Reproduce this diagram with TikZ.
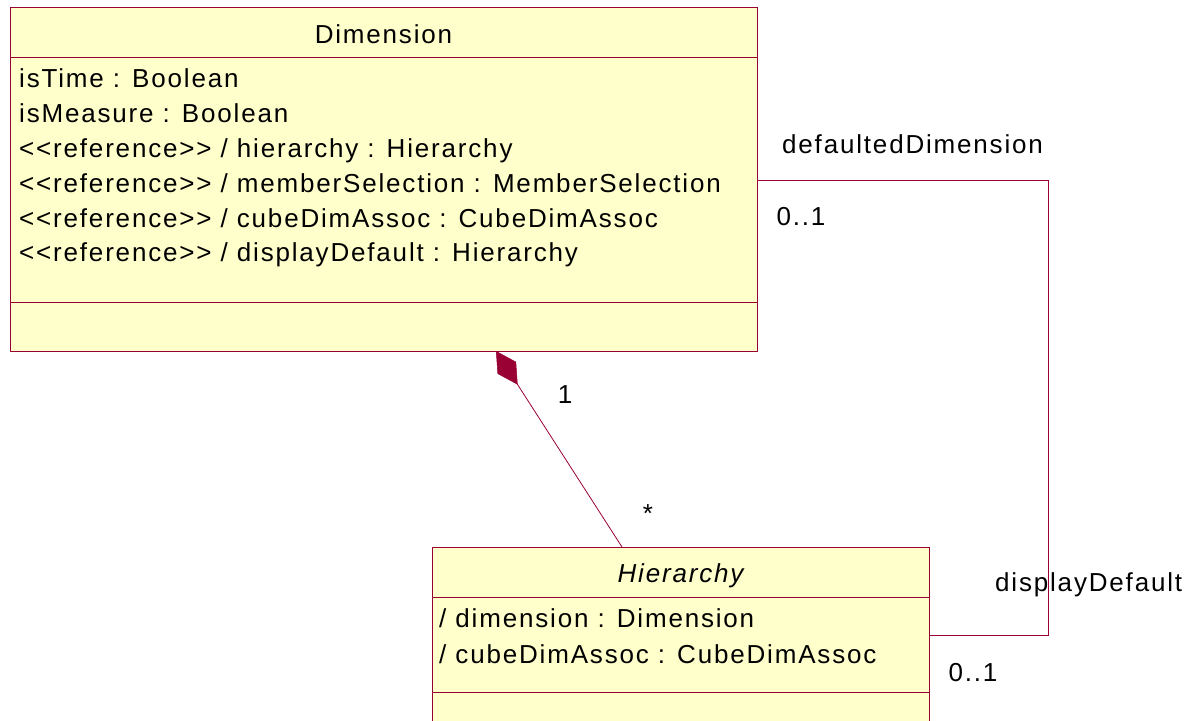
\documentclass[tikz,border=0pt]{standalone}
\usepackage{fontspec}
\setmainfont{Liberation Sans}[LetterSpace=7]
\usetikzlibrary{arrows.meta}
\definecolor{umlborder}{RGB}{153,0,51}
\definecolor{umlfill}{RGB}{255,255,204}
\tikzset{
  classbox/.style={draw=umlborder, fill=umlfill, line width=1pt, inner sep=0pt, anchor=north west},
  divider/.style={draw=umlborder, line width=0.8pt},
  txt/.style={inner sep=0pt, font=\fontsize{26}{35}\selectfont, text=black},
  attr/.style={txt, anchor=base west},
  title/.style={txt, anchor=base},
  assoc/.style={draw=umlborder, line width=1pt},
  comp/.style={draw=umlborder, line width=0.8pt,
    {Diamond[length=40pt, width=22pt, fill=umlborder, line width=0.5pt]}-}
}
\begin{document}
\begin{tikzpicture}[x=1pt, y=-1pt]
\useasboundingbox (0,0) rectangle (1190,720);
\clip (0,0) rectangle (1190,720);

% Dimension class
\node[classbox, minimum width=747pt, minimum height=344pt] (dim) at (10,7) {};
\draw[divider] (10,57) -- (757,57);
\draw[divider] (10,302) -- (757,302);
\node[title] (dimname) at (383.5,43) {Dimension};
\node[attr] (a1) at (19,87)  {isTime : Boolean};
\node[attr] (a2) at (19,122) {isMeasure : Boolean};
\node[attr] (a3) at (19,157) {<{}<reference>{}> / hierarchy : Hierarchy};
\node[attr] (a4) at (19,192) {<{}<reference>{}> / memberSelection : MemberSelection};
\node[attr] (a5) at (19,227) {<{}<reference>{}> / cubeDimAssoc : CubeDimAssoc};
\node[attr] (a6) at (19,261) {<{}<reference>{}> / displayDefault : Hierarchy};

% Hierarchy class (abstract)
\node[classbox, minimum width=497pt, minimum height=200pt] (hier) at (432,547) {};
\draw[divider] (432,597) -- (929,597);
\draw[divider] (432,692) -- (929,692);
\node[title, font=\fontsize{26}{35}\selectfont\itshape] (hiername) at (680.5,582) {Hierarchy};
\node[attr] (b1) at (439,627) {/ dimension : Dimension};
\node[attr] (b2) at (439,663) {/ cubeDimAssoc : CubeDimAssoc};

% composition Dimension <>-- Hierarchy
\coordinate (dtip) at (496,351);
\coordinate (htop) at (622,547);
\draw[comp] (dtip) -- (htop);
\node[txt] (m1) at (565,395) {1};
\node[txt] (m2) at (648,514) {*};

% association defaultedDimension / displayDefault
\coordinate (k1) at (1048,180);
\coordinate (k2) at (1048,635);
\draw[assoc] (dim.east |- k1) -- (k1) -- (k2) -- (hier.east |- k2);
\node[txt, anchor=base west] (r1) at (782,153) {defaultedDimension};
\node[txt] (m3) at (801,217) {0..1};
\node[txt, anchor=base west] (r2) at (995,591) {displayDefault};
\node[txt] (m4) at (973,673) {0..1};
\end{tikzpicture}
\end{document}
